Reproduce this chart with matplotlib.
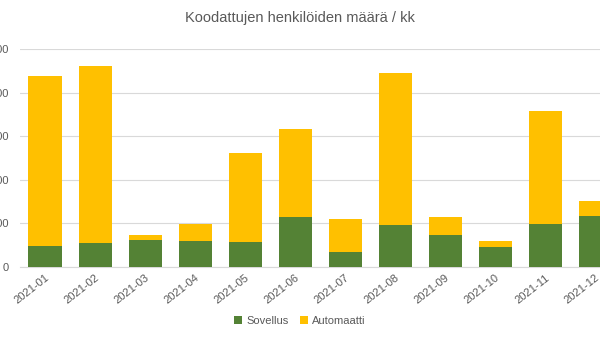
import matplotlib.pyplot as plt
import numpy as np

plt.rcParams['font.family'] = ['Liberation Sans', 'DejaVu Sans']

# ── Data ─────────────────────────────────────────────────────────────────────
months = ["2021-01", "2021-02", "2021-03", "2021-04", "2021-05", "2021-06",
          "2021-07", "2021-08", "2021-09", "2021-10", "2021-11", "2021-12"]
sovellus = [48, 56, 61, 59, 58, 114, 34, 96, 74, 46, 98, 117]
automaatti = [389, 404, 12, 39, 203, 202, 76, 348, 40, 14, 259, 34]
yticks = [0, 100, 200, 300, 400, 500]

GREEN = "#548235"
YELLOW = "#ffc000"
GREY = "#595959"

fig = plt.figure(figsize=(6, 3.38), dpi=100)
ax = fig.add_axes([20 / 600, 1 - 267 / 338, 600 / 600, (267 - 49) / 338])

x = np.arange(len(months))
ax.bar(x, sovellus, width=0.66, color=GREEN, label="Sovellus", zorder=3)
ax.bar(x, automaatti, width=0.66, bottom=sovellus, color=YELLOW,
       label="Automaatti", zorder=3)

ax.set_xlim(-0.5, len(months) - 0.5)
ax.set_ylim(0, 500)
ax.set_yticks(yticks)
ax.set_yticklabels([str(v) for v in yticks], fontsize=8, color=GREY)
ax.tick_params(axis="y", length=0, pad=8)
ax.set_xticks(x)
ax.set_xticklabels(months, rotation=38, ha="right", rotation_mode="anchor",
                   fontsize=8, color=GREY)
ax.tick_params(axis="x", length=0, pad=4)

ax.grid(axis="y", color="#d9d9d9", lw=0.8, zorder=0)
for s in ["top", "right", "left"]:
    ax.spines[s].set_visible(False)
ax.spines["bottom"].set_color("#d9d9d9")

fig.text(0.5, 1 - 18 / 338, "Koodattujen henkilöiden määrä / kk",
         ha="center", va="center", fontsize=10.5, color=GREY)

fig.legend(loc="center", bbox_to_anchor=(0.5, 1 - 321 / 338), ncol=2,
           frameon=False, fontsize=8, handlelength=0.7, handleheight=0.7,
           columnspacing=1.0, handletextpad=0.4, labelcolor=GREY)

fig.savefig("out.png", dpi=100)
